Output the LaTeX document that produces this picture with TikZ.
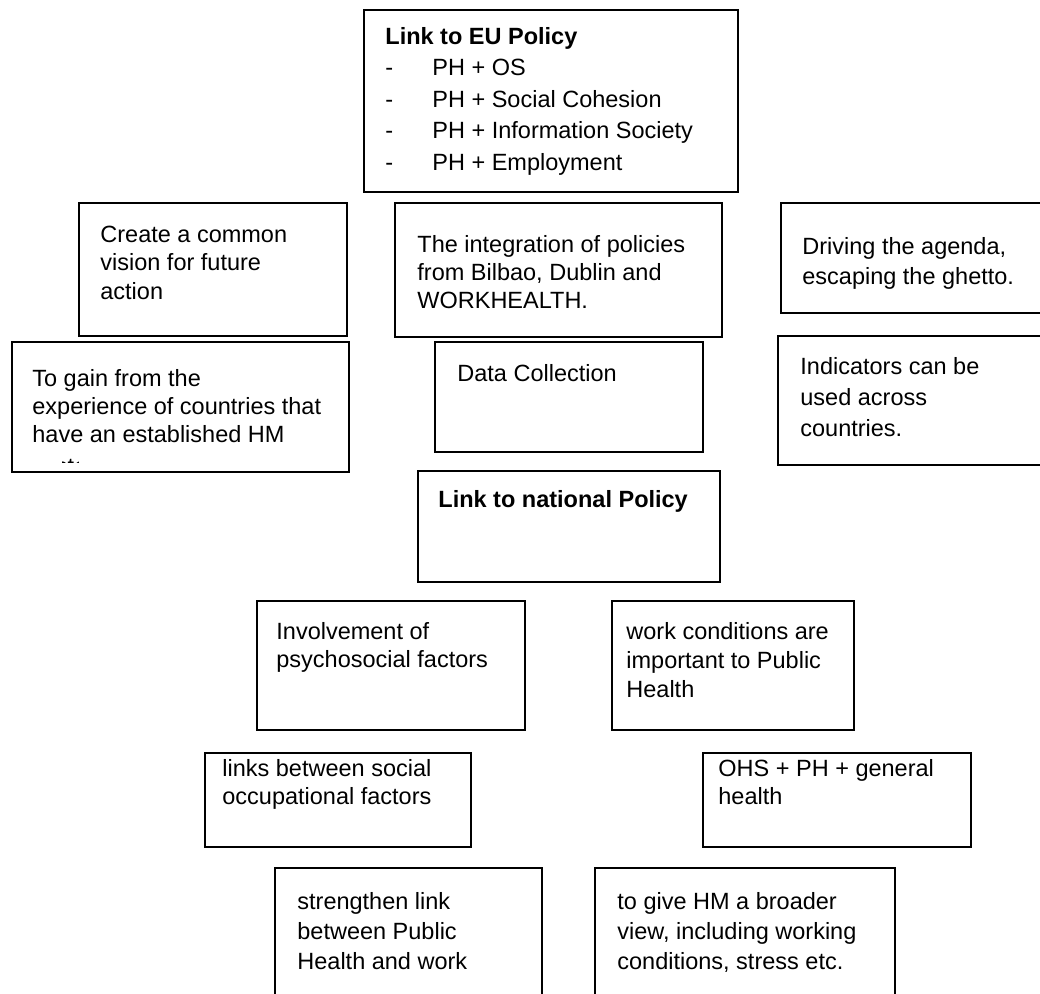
\documentclass[tikz,border=0pt]{standalone}
\usepackage{fontspec}
\setmainfont{Liberation Sans}
\begin{document}
\begin{tikzpicture}[x=0.5pt,y=-0.5pt,
  box/.style={draw=black, line width=0.65pt},
  txt/.style={anchor=base west, inner sep=0pt, font=\fontsize{11.75}{14}\selectfont},
  btxt/.style={txt, font=\fontsize{11.75}{14}\selectfont\bfseries}]
\useasboundingbox (0,0) rectangle (1040,993);
\clip (0,0) rectangle (1040,993);
% boxes
\draw[box] (364,10) rectangle (738,192);
\draw[box] (79,203) rectangle (347,336);
\draw[box] (395,203) rectangle (722,337);
\draw[box] (781,203) rectangle (1045,313);
\draw[box] (12,342) rectangle (349,472);
\draw[box] (435,342) rectangle (703,452);
\draw[box] (778,336) rectangle (1045,465);
\draw[box] (418,471) rectangle (720,582);
\draw[box] (257,601) rectangle (525,730);
\draw[box] (612,601) rectangle (854,730);
\draw[box] (205,753) rectangle (471,847);
\draw[box] (703,753) rectangle (971,847);
\draw[box] (275,868) rectangle (542,1010);
\draw[box] (595,868) rectangle (895,1010);
% EU policy
\node[btxt] (eu0) at (385,44) {Link to EU Policy};
\foreach \t [count=\i] in {PH + OS, PH + Social Cohesion, PH + Information Society, PH + Employment}{
  \node[txt] (eud\i) at (385,{44+31.5*\i}) {-};
  \node[txt] (eu\i) at (432,{44+31.5*\i}) {\t};
}
% create
\foreach \t [count=\i] in {Create a common, vision for future, action}
  \node[txt] (cr\i) at (100,{242+28.5*(\i-1)}) {\t};
% integration
\foreach \t [count=\i] in {The integration of policies, {from Bilbao, Dublin and}, WORKHEALTH.}
  \node[txt] (in\i) at (417,{252+28*(\i-1)}) {\t};
% driving
\foreach \t [count=\i] in {{Driving the agenda,}, escaping the ghetto.}
  \node[txt] (dr\i) at (802,{254+30*(\i-1)}) {\t};
% to gain
\foreach \t [count=\i] in {To gain from the, experience of countries that, have an established HM}
  \node[txt] (tg\i) at (32,{386+28*(\i-1)}) {\t};
\begin{scope}
  \clip (62,342) rectangle (78,462);
  \node[txt] (tg4) at (32,474) {system.};
\end{scope}
% data collection
\node[txt] (dc) at (457,381) {Data Collection};
% indicators
\foreach \t [count=\i] in {Indicators can be, used across, countries.}
  \node[txt] (ic\i) at (800,{374+31*(\i-1)}) {\t};
% national
\node[btxt] (np) at (438,507) {Link to national Policy};
% involvement
\foreach \t [count=\i] in {Involvement of, psychosocial factors}
  \node[txt] (iv\i) at (276,{639+28.5*(\i-1)}) {\t};
% work conditions
\foreach \t [count=\i] in {work conditions are, important to Public, Health}
  \node[txt] (wc\i) at (626,{639+29*(\i-1)}) {\t};
% links
\foreach \t [count=\i] in {links between social, occupational factors}
  \node[txt] (lk\i) at (222,{776+28.5*(\i-1)}) {\t};
% OHS
\foreach \t [count=\i] in {OHS + PH + general, health}
  \node[txt] (oh\i) at (718,{776+28.5*(\i-1)}) {\t};
% strengthen
\foreach \t [count=\i] in {strengthen link, between Public, Health and work}
  \node[txt] (st\i) at (297,{909+30*(\i-1)}) {\t};
% to give
\foreach \t [count=\i] in {to give HM a broader, {view, including working}, {conditions, stress etc.}}
  \node[txt] (tv\i) at (617,{909+30*(\i-1)}) {\t};
\end{tikzpicture}
\end{document}
